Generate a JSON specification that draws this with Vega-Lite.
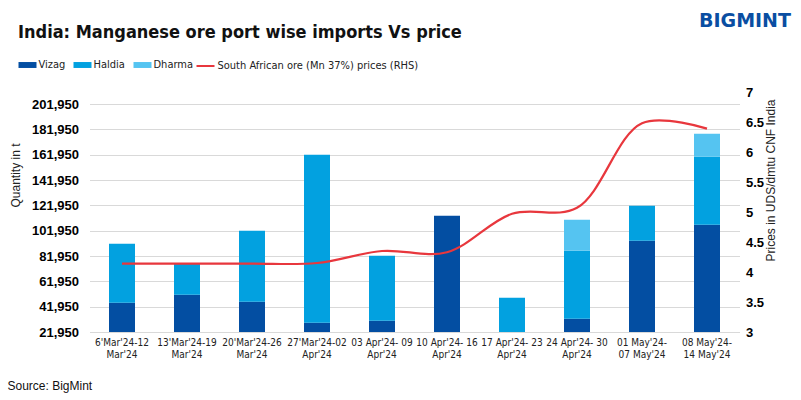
{
  "$schema": "https://vega.github.io/schema/vega-lite/v6.json",
  "autosize": "none",
  "width": 650,
  "height": 240,
  "padding": {"left": 89.5, "top": 92, "right": 61.5, "bottom": 68},
  "background": "white",
  "title": {
    "text": "India: Manganese ore port wise imports Vs price",
    "anchor": "start",
    "frame": "group",
    "dx": -71.5,
    "dy": 40,
    "font": "DejaVu Sans Condensed, Liberation Sans",
    "fontSize": 18,
    "fontWeight": "bold",
    "color": "#111111",
    "offset": 10
  },
  "datasets": {
    "ports": [
      {"week": "6'Mar'24-12\nMar'24", "port": "Vizag", "qty": 45080},
      {"week": "6'Mar'24-12\nMar'24", "port": "Haldia", "qty": 46570},
      {"week": "13'Mar'24-19\nMar'24", "port": "Vizag", "qty": 51400},
      {"week": "13'Mar'24-19\nMar'24", "port": "Haldia", "qty": 24470},
      {"week": "20'Mar'24-26\nMar'24", "port": "Vizag", "qty": 45870},
      {"week": "20'Mar'24-26\nMar'24", "port": "Haldia", "qty": 56060},
      {"week": "27'Mar'24-02\nApr'24", "port": "Vizag", "qty": 29290},
      {"week": "27'Mar'24-02\nApr'24", "port": "Haldia", "qty": 132640},
      {"week": "03 Apr'24- 09\nApr'24", "port": "Vizag", "qty": 30870},
      {"week": "03 Apr'24- 09\nApr'24", "port": "Haldia", "qty": 51320},
      {"week": "10 Apr'24- 16\nApr'24", "port": "Vizag", "qty": 113770},
      {"week": "17 Apr'24- 23\nApr'24", "port": "Haldia", "qty": 49030},
      {"week": "24 Apr'24- 30\nApr'24", "port": "Vizag", "qty": 32450},
      {"week": "24 Apr'24- 30\nApr'24", "port": "Haldia", "qty": 53690},
      {"week": "24 Apr'24- 30\nApr'24", "port": "Dharma", "qty": 24470},
      {"week": "01 May'24-\n07 May'24", "port": "Vizag", "qty": 94030},
      {"week": "01 May'24-\n07 May'24", "port": "Haldia", "qty": 27640},
      {"week": "08 May'24-\n14 May'24", "port": "Vizag", "qty": 106660},
      {"week": "08 May'24-\n14 May'24", "port": "Haldia", "qty": 53690},
      {"week": "08 May'24-\n14 May'24", "port": "Dharma", "qty": 18160}
    ],
    "price": [
      {"week": "6'Mar'24-12\nMar'24", "series": "South African ore (Mn 37%) prices (RHS)", "price": 4.14},
      {"week": "13'Mar'24-19\nMar'24", "series": "South African ore (Mn 37%) prices (RHS)", "price": 4.14},
      {"week": "20'Mar'24-26\nMar'24", "series": "South African ore (Mn 37%) prices (RHS)", "price": 4.14},
      {"week": "27'Mar'24-02\nApr'24", "series": "South African ore (Mn 37%) prices (RHS)", "price": 4.15},
      {"week": "03 Apr'24- 09\nApr'24", "series": "South African ore (Mn 37%) prices (RHS)", "price": 4.35},
      {"week": "10 Apr'24- 16\nApr'24", "series": "South African ore (Mn 37%) prices (RHS)", "price": 4.33},
      {"week": "17 Apr'24- 23\nApr'24", "series": "South African ore (Mn 37%) prices (RHS)", "price": 4.97},
      {"week": "24 Apr'24- 30\nApr'24", "series": "South African ore (Mn 37%) prices (RHS)", "price": 5.07},
      {"week": "01 May'24-\n07 May'24", "series": "South African ore (Mn 37%) prices (RHS)", "price": 6.48},
      {"week": "08 May'24-\n14 May'24", "series": "South African ore (Mn 37%) prices (RHS)", "price": 6.39}
    ],
    "brand": [
      {"week": "08 May'24-\n14 May'24", "logo": "BIGMINT", "qty": 267500}
    ]
  },
  "encoding": {
    "x": {
      "field": "week",
      "type": "nominal",
      "sort": null,
      "scale": {"paddingInner": 0.6, "paddingOuter": 0.3},
      "axis": {
        "title": "Source: BigMint",
        "titleAnchor": "start",
        "titleAlign": "left",
        "titleX": -82.5,
        "titleY": 57,
        "titleBaseline": "alphabetic",
        "titleFont": "Liberation Sans",
        "titleFontSize": 12,
        "titleFontWeight": "normal",
        "titleColor": "#111111",
        "labelAngle": 0,
        "labelExpr": "split(datum.label, '\\n')",
        "labelFont": "DejaVu Sans Condensed, Liberation Sans",
        "labelFontSize": 10,
        "labelLineHeight": 12,
        "labelColor": "#222222",
        "labelPadding": 5,
        "ticks": false,
        "domainColor": "#d9d9d9"
      }
    }
  },
  "layer": [
    {
      "encoding": {
        "y": {
          "field": "qty",
          "type": "quantitative",
          "scale": {"domain": [21950, 211430], "zero": false, "nice": false},
          "axis": {
            "title": "Quantity in t",
            "titleFont": "Liberation Sans",
            "titleFontSize": 12,
            "titleFontWeight": "normal",
            "titleColor": "#222222",
            "titleAngle": 270,
            "titleX": -74,
            "titleY": 83,
            "titleAlign": "center",
            "titleBaseline": "middle",
            "values": [21950, 41950, 61950, 81950, 101950, 121950, 141950, 161950, 181950, 201950],
            "format": ",d",
            "labelFont": "Liberation Sans",
            "labelFontSize": 13,
            "labelFontWeight": "bold",
            "labelColor": "#000000",
            "labelPadding": 11,
            "ticks": false,
            "domain": false,
            "gridColor": "#d9d9d9"
          }
        }
      },
      "layer": [
        {
          "data": {"name": "ports"},
          "mark": {"type": "bar", "clip": true},
          "encoding": {
            "y": {"field": "qty", "type": "quantitative", "aggregate": "sum", "stack": "zero"},
            "color": {
              "field": "port",
              "type": "nominal",
              "sort": ["Vizag", "Haldia", "Dharma"],
              "scale": {
                "domain": ["Vizag", "Haldia", "Dharma"],
                "range": ["#034ea2", "#02a1e0", "#55c4f1"]
              },
              "legend": {
                "title": null,
                "orient": "none",
                "direction": "horizontal",
                "legendX": -71,
                "legendY": -36,
                "symbolType": "M-1,-0.33H1V0.33H-1Z",
                "symbolSize": 324,
                "symbolStrokeWidth": 0,
                "labelFont": "DejaVu Sans Condensed, Liberation Sans",
                "labelFontSize": 11,
                "labelColor": "#222222",
                "labelOffset": 2,
                "columnPadding": 8
              }
            },
            "order": {"field": "port", "sort": "descending"}
          }
        },
        {
          "data": {"name": "brand"},
          "mark": {
            "type": "text",
            "align": "right",
            "baseline": "middle",
            "dx": 84,
            "font": "DejaVu Sans",
            "fontSize": 19,
            "fontWeight": "bold",
            "color": "#0a4ea2",
            "clip": false
          },
          "encoding": {
            "text": {"field": "logo"}
          }
        }
      ]
    },
    {
      "data": {"name": "price"},
      "mark": {"type": "line", "interpolate": "catmull-rom", "strokeWidth": 2.2},
      "encoding": {
        "y": {
          "field": "price",
          "type": "quantitative",
          "scale": {"domain": [3, 7], "zero": false, "nice": false},
          "axis": {
            "orient": "right",
            "title": "Prices in UDS/dmtu CNF India",
            "titleFont": "Liberation Sans",
            "titleFontSize": 12,
            "titleFontWeight": "normal",
            "titleColor": "#222222",
            "titleAngle": 270,
            "titleX": 31,
            "titleY": 88,
            "titleAlign": "center",
            "titleBaseline": "middle",
            "values": [3, 3.5, 4, 4.5, 5, 5.5, 6, 6.5, 7],
            "format": "~g",
            "labelFont": "Liberation Sans",
            "labelFontSize": 13,
            "labelFontWeight": "bold",
            "labelColor": "#000000",
            "labelPadding": 6,
            "ticks": false,
            "domain": false,
            "grid": false
          }
        },
        "stroke": {
          "field": "series",
          "type": "nominal",
          "scale": {"range": ["#e8373d"]},
          "legend": {
            "title": null,
            "orient": "none",
            "legendX": 106,
            "legendY": -36,
            "symbolType": "stroke",
            "symbolSize": 324,
            "symbolStrokeWidth": 2,
            "labelFont": "DejaVu Sans Condensed, Liberation Sans",
            "labelFontSize": 11,
            "labelColor": "#222222",
            "labelOffset": 2,
            "labelLimit": 400
          }
        }
      }
    }
  ],
  "resolve": {"scale": {"y": "independent"}},
  "config": {
    "view": {"stroke": null}
  }
}
